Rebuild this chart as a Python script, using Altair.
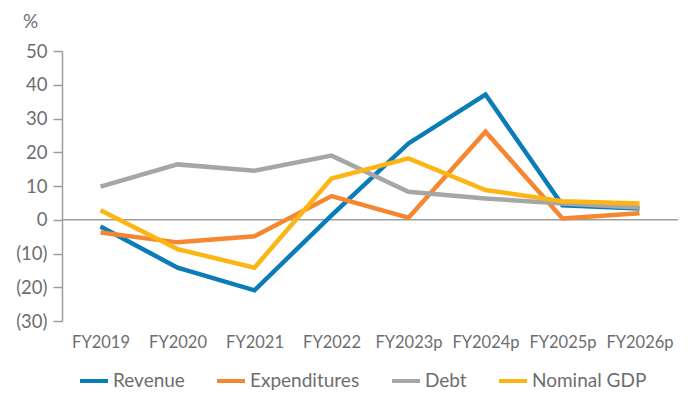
import altair as alt
import pandas as pd

years = ["FY2019", "FY2020", "FY2021", "FY2022", "FY2023p", "FY2024p", "FY2025p", "FY2026p"]
revenue = [-2.0, -14.2, -20.9, 1.3, 22.6, 37.1, 4.3, 3.3]
expenditures = [-3.8, -6.7, -4.9, 7.0, 0.6, 26.1, 0.4, 1.9]
debt = [9.8, 16.4, 14.5, 19.0, 8.3, 6.3, 4.8, 3.6]
nominal_gdp = [2.8, -8.7, -14.2, 12.2, 18.2, 8.8, 5.5, 4.8]
series = ["Revenue", "Expenditures", "Debt", "Nominal GDP"]
colors = ["#0A7DB8", "#F58733", "#A6A6A6", "#FDB515"]
y_ticks = [-30, -20, -10, 0, 10, 20, 30, 40, 50]

rows = []
for s_i, (name, vals) in enumerate(zip(series, [revenue, expenditures, debt, nominal_gdp])):
    for y, v in zip(years, vals):
        rows.append({"year": y, "value": v, "series": name, "order": s_i})
df = pd.DataFrame(rows)

FONT = "Lato"
TXT = "#6D6E71"

y_scale = alt.Scale(domain=[-30, 50], nice=False)
y_axis = alt.Axis(
    title="%", titleAngle=0, titleX=-32, titleY=-24, titleAlign="center",
    titleBaseline="alphabetic", titleFontSize=19, titleFont=FONT,
    titleColor=TXT, titleFontWeight="normal",
    values=y_ticks, grid=False, tickSize=9, tickColor="#9D9D9D",
    tickWidth=1.5, domainColor="#9D9D9D", domainWidth=1.5,
    labelFontSize=18.5, labelColor=TXT, labelFont=FONT, labelPadding=6,
    labelOverlap=False,
    labelExpr="datum.value < 0 ? '(' + format(-datum.value, 'd') + ')' : format(datum.value, 'd')",
)

x_enc = alt.X(
    "year:N",
    sort=years,
    scale=alt.Scale(type="point", padding=0.5),
    axis=alt.Axis(
        title=None, domain=False, ticks=False, labelAngle=0, labelPadding=13,
        labelFontSize=16.5, labelColor=TXT, labelFont=FONT, labelOverlap=False,
    ),
)

zero = alt.Chart(pd.DataFrame({"z": [0]})).mark_rule(color="#9D9D9D", strokeWidth=1.5).encode(
    y=alt.Y("z:Q", scale=y_scale, axis=y_axis)
)

lines = alt.Chart(df).mark_line(strokeWidth=4.5).encode(
    x=x_enc,
    y=alt.Y("value:Q", scale=y_scale, axis=y_axis),
    color=alt.Color(
        "series:N",
        sort=series,
        scale=alt.Scale(domain=series, range=colors),
        legend=alt.Legend(
            title=None, orient="none", legendX=16, legendY=314, direction="horizontal",
            symbolType="stroke", symbolSize=784, symbolStrokeWidth=4,
            labelFontSize=19, labelFont=FONT, labelColor=TXT, labelOffset=3,
            columnPadding=24, columns=4,
        ),
    ),
    order=alt.Order("order:Q"),
)

chart = alt.layer(zero, lines).properties(
    width=616, height=270,
    padding={"left": 54, "top": 43, "right": 5, "bottom": 71},
    autosize=alt.AutoSizeParams(type="none"),
).configure_view(stroke=None)

chart.save("out.html", embed_options={"renderer": "svg", "actions": False})
